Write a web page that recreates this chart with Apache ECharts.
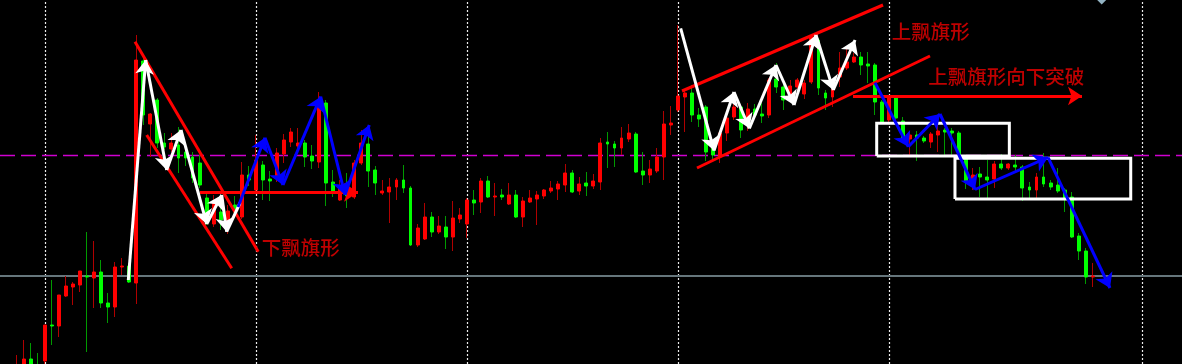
<!DOCTYPE html>
<html><head><meta charset="utf-8">
<script src="https://cdn.jsdelivr.net/npm/echarts@6/dist/echarts.min.js"></script>
<style>html,body{margin:0;padding:0;background:#000;}#c{width:1182px;height:364px;}</style>
</head><body><div id="c"></div>
<script>
// ---- candle data (bar index = array index) ----
const OPEN = [-8,-6,5,-2,3,39,38,68,77,79,
88,86,92,61,57,97,98,81,303,240,
264,221,215,219,212,207,201,166,140,152,
143,159,147,189,174,199,185,188,210,222,
218,221,208,202,261,182,164,174,167,201,
220,194,171,172,177,184,176,119,125,147,
132,137,127,145,140,164,162,183,167,169,
160,169,147,162,165,168,173,175,179,191,
173,181,178,182,222,220,216,225,230,193,
189,193,207,239,254,267,271,249,257,216,
207,231,247,257,242,255,250,249,285,277,
270,277,270,282,324,271,267,287,296,302,
307,300,299,262,244,266,243,225,229,226,
222,229,234,233,231,206,184,190,187,185,
200,196,199,197,177,174,187,181,179,174,
167,128,113,87];
const CLOSE = [-2,5,-4,-6,39,38,69,78,80,93,
87,92,61,57,97,98,82,304,249,250,
221,217,221,206,206,186,179,143,161,144,
153,152,189,184,204,184,183,211,224,232,
221,207,203,262,181,172,177,168,201,221,
193,181,173,177,184,176,119,136,147,132,
138,127,146,149,164,161,183,167,168,167,
169,147,163,166,169,174,176,180,191,172,
180,178,183,221,220,216,226,231,192,189,
195,207,240,241,268,271,249,245,212,209,
231,246,257,234,255,249,248,284,277,264,
278,284,281,327,276,266,275,296,302,307,
299,298,262,241,266,246,226,229,226,223,
230,233,232,231,207,182,189,187,184,200,
196,200,197,176,174,187,180,177,173,166,
127,113,87,88];
const LOW = [-11,-8,-8,-10,-2,19,27,67,59,72,
12,56,56,41,47,89,81,60,239,207,
216,214,212,191,198,181,176,139,137,134,
130,146,145,178,172,164,163,182,201,217,
211,197,195,196,158,167,163,156,165,199,
177,169,169,141,164,171,118,117,124,127,
130,115,113,141,126,149,151,166,148,164,
159,146,137,161,139,165,171,164,172,171,
169,168,175,174,196,197,209,222,191,179,
181,191,184,229,252,232,242,237,203,204,
201,223,244,226,233,246,241,246,271,254,
266,274,265,280,269,254,257,277,294,301,
289,281,249,240,242,240,224,209,203,221,
216,212,209,207,206,175,174,167,164,176,
194,194,193,163,164,164,177,174,171,152,
126,104,80,77];
const HIGH = [9,24,21,11,39,84,69,88,82,93,
132,123,104,71,102,106,101,329,306,251,
266,231,231,237,219,212,209,170,169,164,
159,168,202,198,229,203,193,216,230,236,
236,224,219,272,264,194,184,191,204,234,
227,198,184,186,186,199,178,140,161,152,
148,148,163,156,166,174,186,188,181,175,
181,174,167,174,173,175,183,183,200,194,
187,192,190,226,232,223,237,240,232,212,
204,216,253,258,339,274,279,256,259,219,
233,252,260,259,261,260,261,286,301,284,
284,286,284,329,326,274,281,312,316,311,
312,312,301,264,269,268,247,233,233,228,
232,241,236,236,233,208,196,197,204,203,
210,201,209,199,182,191,211,184,196,176,
172,131,116,101];

// ---- reference levels / time separators ----
const TIME_SEPARATORS = [4, 34, 64, 94, 124, 160];
const LEVEL_DASHED = 208.7;
const LEVEL_SOLID = 88.3;

// ---- drawn objects (bar index, price) ----
const WHITE_ZIG_1 = [[15.87,84],[18.34,304],[21.33,194],[23.36,234],[27.02,140],[29.15,169],[29.86,132.3]];
const WHITE_ZIG_1_TAIL = [[29.86,132.3],[31.75,161]];
const BLUE_ZIG_1 = [[31.47,157],[35.30,226.3],[37.86,179],[43.22,267.3],[46.68,169],[50.13,239]];
const WHITE_ZIG_2 = [[94.41,335.7],[99.15,213.5],[101.99,272],[104.17,235.7],[107.96,299],[110.52,259],[113.65,329],[116.11,274],[119.20,324]];
const BLUE_ZIG_2 = [[122.04,281.3],[126.77,217.3],[131.28,250],[136.26,174.5],[146.64,206.7],[155.45,76]];
const TREND_LINES = [
  [[16.82,322.3],[34.35,112.3]],
  [[18.48,229],[30.57,95.7]],
  [[94.60,273],[123.18,359]],
  [[96.73,196],[129.86,308]]
];
const RED_ARROWS = [
  [[26.06,171.7],[48.53,171.7]],
  [[118.91,268],[151.47,268]]
];
const BOXES = [[122.28,208,141.14,240.7],[133.41,165,158.40,205.7]];
const LABELS = [
  {name:'下飘旗形', at:[34.84,116]},
  {name:'上飘旗形', at:[124.41,332.3]},
  {name:'上飘旗形向下突破', at:[129.62,287.3]}
];
const MARKER = [[154.27,364]];

// ---- build ----
const full = OPEN.map((o,i)=>[i,o,CLOSE[i],LOW[i],HIGH[i]]);
const bodies = OPEN.map((o,i)=>[i,o,CLOSE[i],Math.min(o,CLOSE[i]),Math.max(o,CLOSE[i])]);
function segs(path){const r=[];for(let k=0;k<path.length-1;k++)r.push({coords:[path[k],path[k+1]]});return r;}
function arrowSeries(data,color){
  return {type:'lines',coordinateSystem:'cartesian2d',data:data,symbol:['none','arrow'],symbolSize:[11,14],
    lineStyle:{color:color,width:3,opacity:1,curveness:0},z:6,silent:true,animation:false};
}
function plainSeries(data,color,poly){
  return {type:'lines',coordinateSystem:'cartesian2d',polyline:!!poly,data:data,symbol:'none',
    lineStyle:{color:color,width:3,opacity:1,curveness:0},z:5,silent:true,animation:false};
}
const boxData = BOXES.map(b=>({coords:[[b[0],b[1]],[b[2],b[1]],[b[2],b[3]],[b[0],b[3]],[b[0],b[1]]]}));

const chart = echarts.init(document.getElementById('c'), null, {renderer:'canvas'});
chart.setOption({
  backgroundColor:'#000000',
  animation:false,
  grid:{left:0,right:0,top:0,bottom:0,containLabel:false,outerBoundsMode:'none'},
  xAxis:{type:'value',min:-2.374,max:165.69,show:false},
  yAxis:{type:'value',min:0,max:364,show:false},
  series:[
    {type:'candlestick',data:full,barWidth:1,z:2,silent:true,
      itemStyle:{color:'#b00000',color0:'#009a00',borderColor:'#b00000',borderColor0:'#009a00',borderWidth:1},
      markLine:{silent:true,symbol:'none',z:1,animation:false,label:{show:false},
        data:[
          ...TIME_SEPARATORS.map(v=>({xAxis:v,lineStyle:{color:'#ececec',type:[2,2],width:1.2}})),
          {yAxis:LEVEL_DASHED,lineStyle:{color:'#d000d0',type:[15,6],width:1.3}},
          {yAxis:LEVEL_SOLID,lineStyle:{color:'#66767c',type:'solid',width:2}}
        ]}
    },
    {type:'candlestick',data:bodies,barWidth:3.4,z:3,silent:true,
      itemStyle:{color:'#ff0000',color0:'#00ff00',borderColor:'#ff0000',borderColor0:'#00ff00',borderWidth:1}},
    plainSeries(TREND_LINES.map(c=>({coords:c})),'#ff0000'),
    arrowSeries(RED_ARROWS.map(c=>({coords:c})),'#ff0000'),
    plainSeries(boxData,'#ffffff',true),
    arrowSeries(segs(WHITE_ZIG_1),'#ffffff'),
    plainSeries(segs(WHITE_ZIG_1_TAIL),'#ffffff'),
    arrowSeries(segs(WHITE_ZIG_2),'#ffffff'),
    arrowSeries(segs(BLUE_ZIG_1),'#0000ff'),
    arrowSeries(segs(BLUE_ZIG_2),'#0000ff'),
    {type:'scatter',data:LABELS.map(l=>({name:l.name,value:l.at})),symbolSize:0,z:8,silent:true,
      label:{show:true,position:'right',distance:0,formatter:'{b}',color:'#f00000',fontSize:19.5,fontWeight:500,
        fontFamily:'"Noto Sans CJK SC", sans-serif'}},
    {type:'scatter',data:MARKER,symbol:'diamond',symbolSize:9,clip:false,z:8,silent:true,
      itemStyle:{color:'#b8e0f4'}}
  ]
});
</script>
</body></html>
